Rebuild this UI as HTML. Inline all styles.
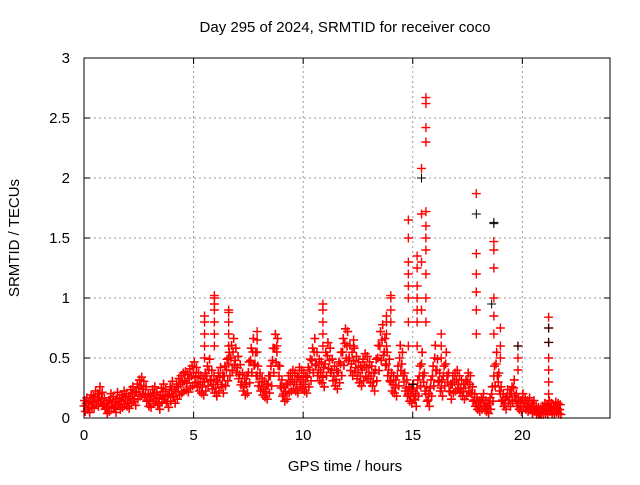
<!DOCTYPE html>
<html><head><meta charset="utf-8"><style>
body{margin:0;background:#fff;}
svg text{font-family:"Liberation Sans",sans-serif;font-size:15px;fill:#000;}
</style></head><body>
<svg id="chart" width="640" height="480" xmlns="http://www.w3.org/2000/svg">
<text x="345" y="32" text-anchor="middle">Day 295 of 2024, SRMTID for receiver coco</text>
<text x="345" y="471" text-anchor="middle">GPS time / hours</text>
<text transform="translate(19,238) rotate(-90)" text-anchor="middle">SRMTID / TECUs</text>
<g id="grid"></g>
<g id="marks"></g>
<rect x="84" y="58" width="526" height="360" fill="none" stroke="#000" stroke-width="1"/>
<g id="ticks"></g>
</svg>
<script>
const xTicks=[0,5,10,15,20];
const yTicks=[0,0.5,1,1.5,2,2.5,3];
const yTickLabels=["0","0.5","1","1.5","2","2.5","3"];
const baseStart=0, baseStep=0.1;
const baseValues=[
0.10,0.12,0.09,0.14,0.13,0.17,0.15,0.20,0.16,0.12,
0.08,0.10,0.15,0.13,0.09,0.16,0.12,0.14,0.17,0.15,
0.13,0.18,0.20,0.16,0.22,0.25,0.27,0.24,0.20,0.15,
0.14,0.18,0.20,0.16,0.12,0.19,0.22,0.18,0.14,0.20,
0.24,0.18,0.22,0.26,0.28,0.30,0.31,0.29,0.33,0.35,
0.38,0.34,0.30,0.28,0.26,0.30,0.35,0.40,0.32,0.28,
0.25,0.30,0.34,0.28,0.35,0.40,0.45,0.50,0.55,0.48,
0.42,0.36,0.30,0.26,0.28,0.38,0.48,0.55,0.45,0.35,
0.30,0.26,0.24,0.22,0.28,0.35,0.48,0.58,0.55,0.35,
0.25,0.20,0.22,0.28,0.30,0.32,0.30,0.28,0.34,0.32,
0.30,0.28,0.34,0.40,0.48,0.55,0.45,0.40,0.38,0.34,
0.45,0.52,0.48,0.40,0.35,0.32,0.38,0.45,0.55,0.62,
0.60,0.50,0.45,0.48,0.42,0.38,0.35,0.40,0.44,0.42,
0.38,0.35,0.30,0.40,0.50,0.60,0.65,0.55,0.45,0.40,
0.30,0.28,0.25,0.35,0.50,0.45,0.30,0.25,0.20,0.18,
0.22,0.15,0.25,0.35,0.45,0.30,0.20,0.15,0.25,0.35,
0.50,0.40,0.30,0.25,0.35,0.45,0.30,0.22,0.28,0.30,
0.32,0.28,0.25,0.22,0.25,0.30,0.28,0.20,0.15,0.12,
0.10,0.12,0.15,0.10,0.08,0.12,0.20,0.35,0.45,0.30,
0.20,0.15,0.12,0.18,0.15,0.20,0.25,0.15,0.12,0.10,
0.15,0.12,0.10,0.12,0.08,0.10,0.06,0.05,0.04,0.06,
0.08,0.07,0.10,0.08,0.06,0.09,0.08,0.07];
const spikeTimes=[5.5,5.95,6.6,7.9,8.8,10.9,12.3,13.8,14.0,14.8,15.2,15.4,15.6,16.3,17.9,18.7,19.0,19.8,21.2];
const spikeValues=[
[0.5,0.6,0.7,0.8,0.85],
[0.6,0.7,0.8,0.9,0.95,1.0,1.02],
[0.5,0.6,0.7,0.8,0.88,0.9],
[0.55,0.65,0.72],
[0.6],
[0.6,0.7,0.8,0.9,0.95],
[0.6,0.65],
[0.6,0.7,0.8,0.85],
[0.8,0.9,1.0,1.02],
[0.6,0.8,1.0,1.1,1.2,1.3,1.5,1.65],
[0.6,0.8,0.9,1.0,1.1,1.25,1.35],
[0.9,1.3,1.7,2.08],
[0.8,1.0,1.2,1.4,1.5,1.6,1.72,2.3,2.42,2.62,2.67],
[0.5,0.6,0.7],
[0.7,0.9,1.05,1.2,1.37,1.87],
[0.7,0.85,1.0,1.25,1.4,1.47],
[0.5,0.6,0.75],
[0.4,0.5,0.6],
[0.2,0.3,0.4,0.5,0.63,0.75,0.84]];
const blackTimes=[15.0,15.4,17.9,18.7,18.7,18.6,19.8,21.2,21.2];
const blackValues=[0.28,2.0,1.7,1.63,1.62,0.95,0.6,0.75,0.63];

const X0=84,X1=610,Y0=418,Y1=58;
const xs=t=>X0+(t/24)*(X1-X0);
const ys=v=>Y0-(v/3)*(Y0-Y1);
const NS="http://www.w3.org/2000/svg";
function mk(tag,attrs,parent){const e=document.createElementNS(NS,tag);for(const k in attrs)e.setAttribute(k,attrs[k]);parent.appendChild(e);return e;}
const grid=document.getElementById('grid'),ticks=document.getElementById('ticks'),marks=document.getElementById('marks');
xTicks.forEach(t=>{
  const x=xs(t);
  if(t>0){const g=mk('line',{x1:x,x2:x,y1:Y0,y2:Y1,stroke:'#999','stroke-dasharray':'2,3'},grid);
  
  }
  mk('line',{x1:x,x2:x,y1:Y0,y2:Y0-6,stroke:'#000'},ticks);
  mk('line',{x1:x,x2:x,y1:Y1,y2:Y1+6,stroke:'#000'},ticks);
  const l=mk('text',{x:x,y:Y0+22,'text-anchor':'middle'},ticks);l.textContent=t;
  
  
});
yTicks.forEach((v,i)=>{
  const y=ys(v);
  if(v>0&&v<3){const g=mk('line',{x1:X0,x2:X1,y1:y,y2:y,stroke:'#999','stroke-dasharray':'2,3'},grid);
  
  }
  mk('line',{x1:X0,x2:X0+6,y1:y,y2:y,stroke:'#000'},ticks);
  mk('line',{x1:X1,x2:X1-6,y1:y,y2:y,stroke:'#000'},ticks);
  const l=mk('text',{x:70,y:y+5,'text-anchor':'end'},ticks);l.textContent=yTickLabels[i];
  
  
});
function cross(t,v,color,name,w){
  const x=xs(t),y=ys(v);
  const p=mk('path',{d:`M${x-4.5} ${y}H${x+4.5}M${x} ${y-4.5}V${y+4.5}`,stroke:color,'stroke-width':w,fill:'none'},marks);
  
  
}
baseValues.forEach((v,i)=>{
  const t=baseStart+i*baseStep;
  const s=0.03+v*0.15;
  cross(t,v,'#f00','red-point',1.6);
  cross(t+0.03,v+s,'#f00','red-point',1.6);
  cross(t+0.06,Math.max(0.03,v-s),'#f00','red-point',1.6);
});
spikeTimes.forEach((t,i)=>spikeValues[i].forEach(v=>cross(t,v,'#f00','red-spike-point',1.4)));
blackTimes.forEach((t,i)=>cross(t,blackValues[i],'#000','black-point',1));
</script>
</body></html>
